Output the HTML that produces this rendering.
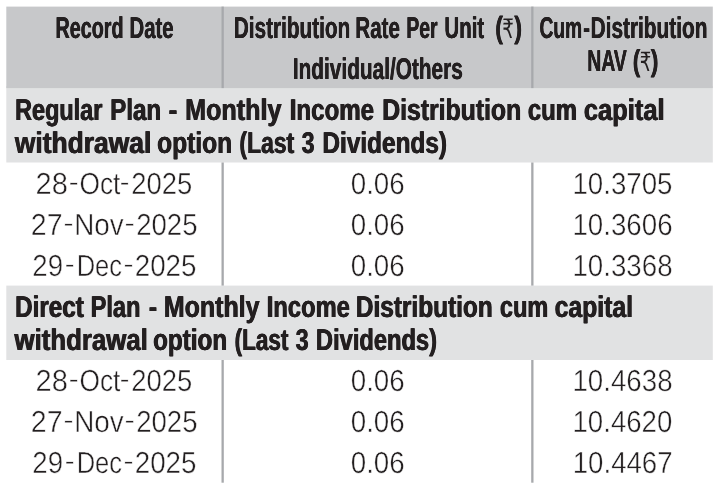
<!DOCTYPE html>
<html lang="en">
<head>
<meta charset="utf-8">
<title>Income Distribution History</title>
<style>
html,body{margin:0;padding:0;background:#fff;}
body{width:719px;height:493px;position:relative;overflow:hidden;font-family:"Liberation Sans",sans-serif;color:#231f20;}
.bg{position:absolute;left:0;top:0;}
.hd{fill:#c7c8ca;}
.sc{fill:#e1e2e3;}
.ln{fill:#a7a9ac;}
.t{position:absolute;left:0;top:0;white-space:pre;line-height:1;transform-origin:0 0;margin:0;padding:0;text-rendering:geometricPrecision;}
.hb{font-weight:bold;text-shadow:0.3px 0 0 #231f20,-0.3px 0 0 #231f20;}
.sb{font-weight:bold;text-shadow:0.5px 0 0 #231f20,-0.5px 0 0 #231f20;}
.pb{font-weight:bold;text-shadow:0.3px 0 0 #231f20,-0.3px 0 0 #231f20;}
.ru{font-family:"DejaVu Sans","Liberation Sans",sans-serif;}
.lt{-webkit-text-stroke:0.45px #fff;}
</style>
</head>
<body>
<svg class="bg" width="719" height="493" viewBox="0 0 719 493" aria-hidden="true">
<rect class="sc" x="6.30" y="86.10" width="706.50" height="76.40"/>
<rect class="sc" x="6.30" y="285.60" width="706.50" height="74.40"/>
<rect class="hd" x="6.30" y="6.60" width="706.50" height="81.50"/>
<rect class="ln" x="221.50" y="6.60" width="2.30" height="81.50"/>
<rect class="ln" x="221.50" y="162.50" width="2.30" height="123.10"/>
<rect class="ln" x="221.50" y="360.00" width="2.30" height="122.70"/>
<rect class="ln" x="531.20" y="6.60" width="2.30" height="81.50"/>
<rect class="ln" x="531.20" y="162.50" width="2.30" height="123.10"/>
<rect class="ln" x="531.20" y="360.00" width="2.30" height="122.70"/>
</svg>
<div class="tbl" role="table" aria-label="Income distribution history">
<div class="row head" role="row">
<div class="cell" role="columnheader"><span class="t hb" style="font-size:30.09px;transform:translate(55.49px,14px) scaleX(0.6564)">Record </span><span class="t hb" style="font-size:30.09px;transform:translate(129.55px,14px) scaleX(0.6753)">Date</span></div>
<div class="cell" role="columnheader"><span class="t hb" style="font-size:30.09px;transform:translate(233.84px,14px) scaleX(0.6899)">Distribution </span><span class="t hb" style="font-size:30.09px;transform:translate(355.36px,14px) scaleX(0.6823)">Rate </span><span class="t hb" style="font-size:30.09px;transform:translate(406.33px,14px) scaleX(0.6451)">Per </span><span class="t hb" style="font-size:30.09px;transform:translate(444.42px,14px) scaleX(0.6799)">Unit </span><span class="t pb" style="font-size:30.56px;transform:translate(495.23px,13px) scaleX(0.7593)">(</span><span class="t ru" style="font-size:26.85px;transform:translate(502.17px,17px) scaleX(0.6795)">₹</span><span class="t pb" style="font-size:30.56px;transform:translate(514.28px,13px) scaleX(0.7676)">) </span><span class="t hb" style="font-size:30.09px;transform:translate(292.84px,55px) scaleX(0.6918)">Individual/Others</span></div>
<div class="cell" role="columnheader"><span class="t hb" style="font-size:30.09px;transform:translate(539.50px,14px) scaleX(0.6380)">Cum</span><span class="t hb" style="font-size:30.09px;transform:translate(583.13px,14px) scaleX(0.6789)">-</span><span class="t hb" style="font-size:30.09px;transform:translate(590.61px,14px) scaleX(0.6920)">Distribution </span><span class="t hb" style="font-size:30.09px;transform:translate(587.35px,47px) scaleX(0.6432)">NAV </span><span class="t pb" style="font-size:30.24px;transform:translate(632.68px,47px) scaleX(0.7476)">(</span><span class="t ru" style="font-size:26.40px;transform:translate(639.65px,50px) scaleX(0.6839)">₹</span><span class="t pb" style="font-size:30.24px;transform:translate(650.79px,47px) scaleX(0.7632)">)</span></div>
</div>
<div class="row group" role="row">
<div class="cell" role="cell"><span class="t sb" style="font-size:30.09px;transform:translate(15.08px,96px) scaleX(0.7794)">Regular </span><span class="t sb" style="font-size:30.09px;transform:translate(110.17px,96px) scaleX(0.8037)">Plan </span><span class="t sb" style="font-size:30.09px;transform:translate(168.61px,96px) scaleX(0.8746)">- </span><span class="t sb" style="font-size:30.09px;transform:translate(185.16px,96px) scaleX(0.8352)">Monthly </span><span class="t sb" style="font-size:30.09px;transform:translate(289.74px,96px) scaleX(0.8006)">Income </span><span class="t sb" style="font-size:30.09px;transform:translate(382.24px,96px) scaleX(0.8236)">Distribution </span><span class="t sb" style="font-size:30.09px;transform:translate(527.84px,96px) scaleX(0.7950)">cum </span><span class="t sb" style="font-size:30.09px;transform:translate(583.81px,96px) scaleX(0.8480)">capital </span><span class="t sb" style="font-size:30.09px;transform:translate(14.82px,129px) scaleX(0.8781)">withdrawal </span><span class="t sb" style="font-size:30.09px;transform:translate(157.12px,129px) scaleX(0.8167)">option </span><span class="t sb" style="font-size:30.09px;transform:translate(239.45px,129px) scaleX(0.7607)">(Last </span><span class="t sb" style="font-size:30.09px;transform:translate(301.73px,129px) scaleX(0.7693)">3 </span><span class="t sb" style="font-size:30.09px;transform:translate(322.43px,129px) scaleX(0.8102)">Dividends)</span></div>
</div>
<div class="row data" role="row">
<div class="cell" role="cell"><span class="t lt" style="font-size:30.40px;transform:translate(35.55px,169px) scaleX(0.9560)">28</span><span class="t lt" style="font-size:30.40px;transform:translate(68.82px,170px) scale(0.9726,0.78)">-</span><span class="t lt" style="font-size:30.40px;transform:translate(79.54px,169px) scaleX(0.8645)">Oct</span><span class="t lt" style="font-size:30.40px;transform:translate(119.78px,170px) scale(0.9579,0.78)">-</span><span class="t lt" style="font-size:30.40px;transform:translate(131.14px,169px) scaleX(0.9028)">2025</span></div>
<div class="cell" role="cell"><span class="t lt" style="font-size:30.40px;transform:translate(350.72px,169px) scaleX(0.9119)">0.06</span></div>
<div class="cell" role="cell"><span class="t lt" style="font-size:30.40px;transform:translate(572.48px,169px) scaleX(0.9098)">10.3705</span></div>
</div>
<div class="row data" role="row">
<div class="cell" role="cell"><span class="t lt" style="font-size:30.40px;transform:translate(30.79px,210px) scaleX(0.9381)">27</span><span class="t lt" style="font-size:30.40px;transform:translate(63.51px,211px) scale(0.9901,0.78)">-</span><span class="t lt" style="font-size:30.40px;transform:translate(74.14px,210px) scaleX(0.9159)">Nov</span><span class="t lt" style="font-size:30.40px;transform:translate(124.53px,211px) scale(1.0183,0.78)">-</span><span class="t lt" style="font-size:30.40px;transform:translate(136.22px,210px) scaleX(0.9068)">2025</span></div>
<div class="cell" role="cell"><span class="t lt" style="font-size:30.40px;transform:translate(350.72px,210px) scaleX(0.9119)">0.06</span></div>
<div class="cell" role="cell"><span class="t lt" style="font-size:30.40px;transform:translate(572.46px,210px) scaleX(0.9112)">10.3606</span></div>
</div>
<div class="row data" role="row">
<div class="cell" role="cell"><span class="t lt" style="font-size:30.40px;transform:translate(32.33px,251px) scaleX(0.9100)">29</span><span class="t lt" style="font-size:30.40px;transform:translate(64.82px,252px) scale(0.9726,0.78)">-</span><span class="t lt" style="font-size:30.40px;transform:translate(76.69px,251px) scaleX(0.8395)">Dec</span><span class="t lt" style="font-size:30.40px;transform:translate(123.45px,252px) scale(0.9924,0.78)">-</span><span class="t lt" style="font-size:30.40px;transform:translate(134.70px,251px) scaleX(0.9130)">2025</span></div>
<div class="cell" role="cell"><span class="t lt" style="font-size:30.40px;transform:translate(350.72px,251px) scaleX(0.9119)">0.06</span></div>
<div class="cell" role="cell"><span class="t lt" style="font-size:30.40px;transform:translate(572.46px,251px) scaleX(0.9112)">10.3368</span></div>
</div>
<div class="row group" role="row">
<div class="cell" role="cell"><span class="t sb" style="font-size:30.09px;transform:translate(15.06px,293px) scaleX(0.8067)">Direct </span><span class="t sb" style="font-size:30.09px;transform:translate(90.69px,293px) scaleX(0.7826)">Plan </span><span class="t sb" style="font-size:30.09px;transform:translate(148.80px,293px) scaleX(0.8257)">- </span><span class="t sb" style="font-size:30.09px;transform:translate(163.87px,293px) scaleX(0.8298)">Monthly </span><span class="t sb" style="font-size:30.09px;transform:translate(266.74px,293px) scaleX(0.7891)">Income </span><span class="t sb" style="font-size:30.09px;transform:translate(355.85px,293px) scaleX(0.8113)">Distribution </span><span class="t sb" style="font-size:30.09px;transform:translate(499.98px,293px) scaleX(0.7800)">cum </span><span class="t sb" style="font-size:30.09px;transform:translate(554.63px,293px) scaleX(0.8229)">capital </span><span class="t sb" style="font-size:30.09px;transform:translate(14.55px,326px) scaleX(0.8576)">withdrawal </span><span class="t sb" style="font-size:30.09px;transform:translate(153.10px,326px) scaleX(0.8056)">option </span><span class="t sb" style="font-size:30.09px;transform:translate(234.55px,326px) scaleX(0.7495)">(Last </span><span class="t sb" style="font-size:30.09px;transform:translate(295.63px,326px) scaleX(0.7757)">3 </span><span class="t sb" style="font-size:30.09px;transform:translate(315.92px,326px) scaleX(0.7876)">Dividends)</span></div>
</div>
<div class="row data" role="row">
<div class="cell" role="cell"><span class="t lt" style="font-size:30.40px;transform:translate(35.55px,366px) scaleX(0.9560)">28</span><span class="t lt" style="font-size:30.40px;transform:translate(68.82px,367px) scale(0.9726,0.78)">-</span><span class="t lt" style="font-size:30.40px;transform:translate(79.54px,366px) scaleX(0.8645)">Oct</span><span class="t lt" style="font-size:30.40px;transform:translate(119.78px,367px) scale(0.9579,0.78)">-</span><span class="t lt" style="font-size:30.40px;transform:translate(131.14px,366px) scaleX(0.9028)">2025</span></div>
<div class="cell" role="cell"><span class="t lt" style="font-size:30.40px;transform:translate(350.72px,366px) scaleX(0.9119)">0.06</span></div>
<div class="cell" role="cell"><span class="t lt" style="font-size:30.40px;transform:translate(572.46px,366px) scaleX(0.9112)">10.4638</span></div>
</div>
<div class="row data" role="row">
<div class="cell" role="cell"><span class="t lt" style="font-size:30.40px;transform:translate(30.79px,407px) scaleX(0.9381)">27</span><span class="t lt" style="font-size:30.40px;transform:translate(63.51px,408px) scale(0.9901,0.78)">-</span><span class="t lt" style="font-size:30.40px;transform:translate(74.14px,407px) scaleX(0.9159)">Nov</span><span class="t lt" style="font-size:30.40px;transform:translate(124.53px,408px) scale(1.0183,0.78)">-</span><span class="t lt" style="font-size:30.40px;transform:translate(136.22px,407px) scaleX(0.9068)">2025</span></div>
<div class="cell" role="cell"><span class="t lt" style="font-size:30.40px;transform:translate(350.72px,407px) scaleX(0.9119)">0.06</span></div>
<div class="cell" role="cell"><span class="t lt" style="font-size:30.40px;transform:translate(572.51px,407px) scaleX(0.9082)">10.4620</span></div>
</div>
<div class="row data" role="row">
<div class="cell" role="cell"><span class="t lt" style="font-size:30.40px;transform:translate(32.33px,448px) scaleX(0.9100)">29</span><span class="t lt" style="font-size:30.40px;transform:translate(64.82px,449px) scale(0.9726,0.78)">-</span><span class="t lt" style="font-size:30.40px;transform:translate(76.69px,448px) scaleX(0.8395)">Dec</span><span class="t lt" style="font-size:30.40px;transform:translate(123.45px,449px) scale(0.9924,0.78)">-</span><span class="t lt" style="font-size:30.40px;transform:translate(134.70px,448px) scaleX(0.9130)">2025</span></div>
<div class="cell" role="cell"><span class="t lt" style="font-size:30.40px;transform:translate(350.72px,448px) scaleX(0.9119)">0.06</span></div>
<div class="cell" role="cell"><span class="t lt" style="font-size:30.40px;transform:translate(572.71px,448px) scaleX(0.9093)">10.4467</span></div>
</div>
</div>
</body>
</html>
